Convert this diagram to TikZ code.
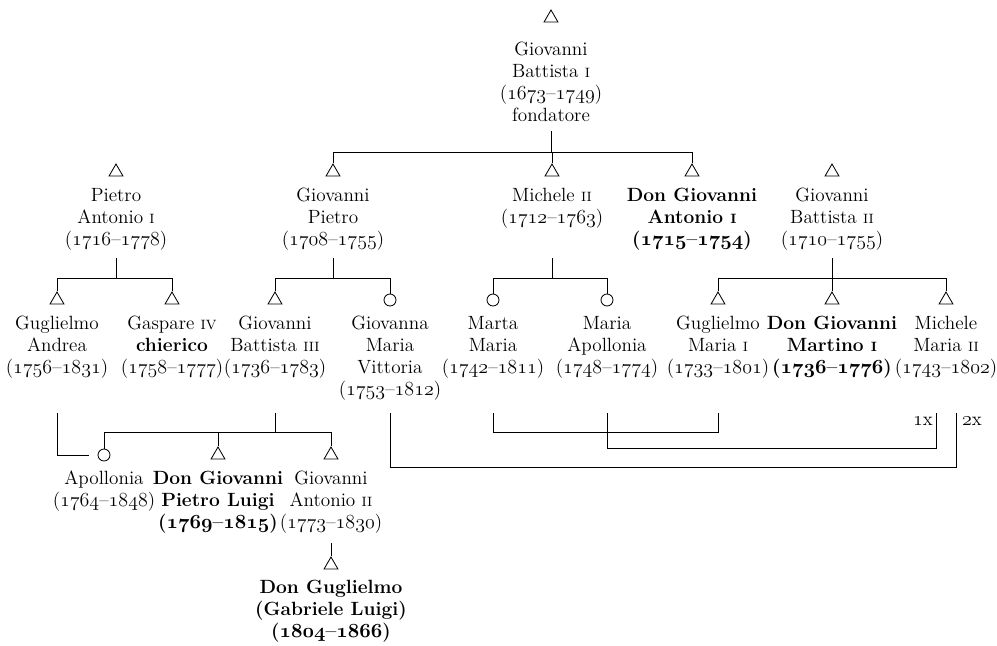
\documentclass[tikz,border=0pt]{standalone}
\usepackage{tikz}
\usetikzlibrary{positioning,shapes.geometric}

\newcommand{\yrs}[2]{({\usefont{OML}{cmm}{m}{it}#1}--{\usefont{OML}{cmm}{m}{it}#2})}
\newcommand{\byrs}[2]{({\usefont{OML}{cmm}{b}{it}#1}--{\usefont{OML}{cmm}{b}{it}#2})}
\newcommand{\rom}[1]{{\fontsize{8.1}{9}\selectfont #1}}

\begin{document}
\begin{tikzpicture}[
    x=0.6pt, y=-0.6pt,
    line width=0.5pt,
    male/.style={draw, regular polygon, regular polygon sides=3, minimum size=9.6pt, inner sep=0pt},
    female/.style={draw, circle, minimum size=7.2pt, inner sep=0pt},
    person/.style={align=center, inner sep=0pt, font=\fontsize{11.5}{13.2}\selectfont},
    don/.style={person, font=\fontsize{11.5}{13.2}\selectfont\bfseries}
]
    \useasboundingbox (0,0) rectangle (997,645);

    % levels
    \coordinate (t0) at (0,131); \coordinate (b0) at (0,152);
    \coordinate (t1) at (0,258); \coordinate (b1) at (0,278);
    \coordinate (t2) at (0,413); \coordinate (b2) at (0,432);
    \coordinate (t3) at (0,543);
    \coordinate (w1) at (0,448); \coordinate (w2) at (0,467);

    % founder
    \node[male] (gb1s) at (551,18) {};
    \node[person, below=14pt of gb1s.center] (gb1) {Giovanni\\Battista \rom{I}\\\yrs{1673}{1749}\\fondatore};

    % second generation
    \node[male] (pa1s) at (116,172) {};
    \node[male] (gps)  at (333,172) {};
    \node[male] (m2s)  at (552,172) {};
    \node[male] (dgas) at (692,172) {};
    \node[male] (gb2s) at (832,172) {};
    \node[person, below=9.5pt of pa1s.center] (pa1) {Pietro\\Antonio \rom{I}\\\yrs{1716}{1778}};
    \node[person, below=9.5pt of gps.center] (gp) {Giovanni\\Pietro\\\yrs{1708}{1755}};
    \node[person, below=9.5pt of m2s.center] (m2) {Michele \rom{II}\\\yrs{1712}{1763}};
    \node[don, below=9.5pt of dgas.center] (dga) {Don Giovanni\\Antonio \rom{I}\\\byrs{1715}{1754}};
    \node[person, below=9.5pt of gb2s.center] (gb2) {Giovanni\\Battista \rom{II}\\\yrs{1710}{1755}};

    % third generation
    \node[male]   (guas) at (57,300) {};
    \node[male]   (gs4s) at (172,300) {};
    \node[male]   (gb3s) at (275,300) {};
    \node[female] (gmvs) at (390,300) {};
    \node[female] (mmas) at (493,300) {};
    \node[female] (maps) at (607,300) {};
    \node[male]   (gm1s) at (718,300) {};
    \node[male]   (dgms) at (832,300) {};
    \node[male]   (mm2s) at (946,300) {};
    \node[person, below=9.5pt of guas.center] (gua) {Guglielmo\\Andrea\\\yrs{1756}{1831}};
    \node[person, below=9.5pt of gs4s.center] (gs4) {Gaspare \rom{IV}\\\textbf{chierico}\\\yrs{1758}{1777}};
    \node[person, below=9.5pt of gb3s.center] (gb3) {Giovanni\\Battista \rom{III}\\\yrs{1736}{1783}};
    \node[person, below=9.5pt of gmvs.center] (gmv) {Giovanna\\Maria\\Vittoria\\\yrs{1753}{1812}};
    \node[person, below=9.5pt of mmas.center] (mma) {Marta\\Maria\\\yrs{1742}{1811}};
    \node[person, below=9.5pt of maps.center] (map) {Maria\\Apollonia\\\yrs{1748}{1774}};
    \node[person, below=9.5pt of gm1s.center] (gm1) {Guglielmo\\Maria \rom{I}\\\yrs{1733}{1801}};
    \node[don, below=9.5pt of dgms.center] (dgm) {Don Giovanni\\Martino \rom{I}\\\byrs{1736}{1776}};
    \node[person, below=9.5pt of mm2s.center] (mm2) {Michele\\Maria \rom{II}\\\yrs{1743}{1802}};

    % fourth and fifth generation
    \node[female] (apos) at (104,455) {};
    \node[male]   (dgps) at (218,455) {};
    \node[male]   (ga2s) at (331,455) {};
    \node[male]   (dgus) at (331,565) {};
    \node[person, below=9.5pt of apos.center] (apo) {Apollonia\\\yrs{1764}{1848}};
    \node[don, below=9.5pt of dgps.center] (dgp) {Don Giovanni\\Pietro Luigi\\\byrs{1769}{1815}};
    \node[person, below=9.5pt of ga2s.center] (ga2) {Giovanni\\Antonio \rom{II}\\\yrs{1773}{1830}};
    \node[don, below=9pt of dgus.center] (dgu) {Don Guglielmo\\(Gabriele Luigi)\\\byrs{1804}{1866}};

    % descent lines
    \draw (gb1s |- t0) -- (gb1s |- b0);
    \draw (gps.north) |- (dgas |- b0) -- (dgas.north);
    \draw (m2s.north) -- (m2s |- b0);

    \draw (pa1s |- t1) -- (pa1s |- b1);
    \draw (guas.north) |- (gs4s |- b1) -- (gs4s.north);
    \draw (gps |- t1) -- (gps |- b1);
    \draw (gb3s.north) |- (gmvs |- b1) -- (gmvs.north);
    \draw (m2s |- t1) -- (m2s |- b1);
    \draw (mmas.north) |- (maps |- b1) -- (maps.north);
    \draw (gb2s |- t1) -- (dgms.north);
    \draw (gm1s.north) |- (mm2s |- b1) -- (mm2s.north);

    \draw (gb3s |- t2) -- (gb3s |- b2);
    \draw (apos.north) |- (ga2s |- b2) -- (ga2s.north);
    \draw (dgps.north) -- (dgps |- b2);
    \draw (ga2s |- t3) -- (dgus.north);

    % marriages
    \coordinate (m1x) at ([xshift=-6pt]mm2s.center);
    \coordinate (m2x) at ([xshift=6pt]mm2s.center);
    \draw (guas |- t2) |- ([xshift=-5pt]apos.west);
    \draw (mmas |- t2) |- (gm1s |- b2) -- (gm1s |- t2);
    \draw (maps |- t2) |- (m1x |- w1) -- (m1x |- t2);
    \draw (gmvs |- t2) |- (m2x |- w2) -- (m2x |- t2);
    \node[person] (n1x) at (923,421) {{\usefont{OML}{cmm}{m}{it}1}x};
    \node[person] (n2x) at (972,421) {{\usefont{OML}{cmm}{m}{it}2}x};
\end{tikzpicture}
\end{document}
